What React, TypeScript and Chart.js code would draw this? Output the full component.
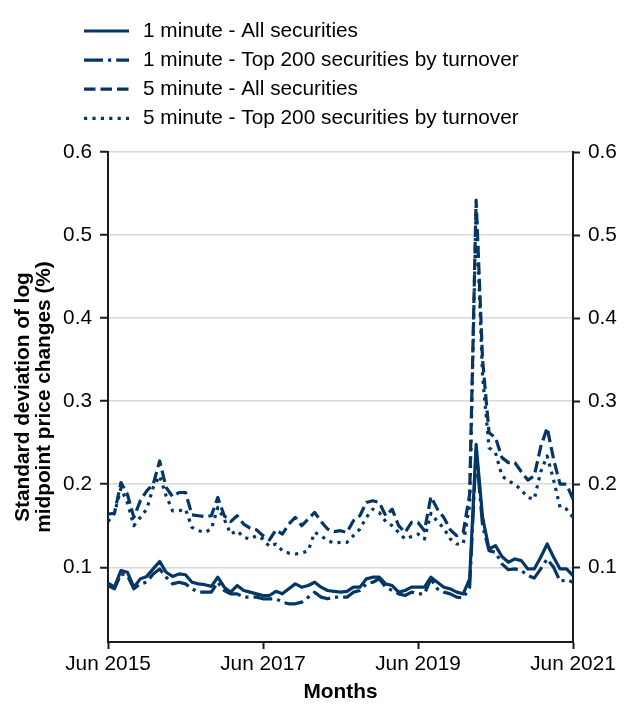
import { useEffect, useRef } from 'react';
import { Chart, registerables } from 'chart.js';

Chart.register(...registerables);

const FONT = '"Liberation Sans", Arial, Helvetica, sans-serif';
const NAVY = '#043666';
const AXIS = '#1a1a1a';
const GRID = '#d9d9d9';
const FS = 20.8;

const MONTH_NAMES = ['Jan', 'Feb', 'Mar', 'Apr', 'May', 'Jun', 'Jul', 'Aug', 'Sep', 'Oct', 'Nov', 'Dec'];
const START_YEAR = 2015;
const START_MONTH = 5; // June
const N_MONTHS = 73;
const MONTHS: string[] = [];
for (let i = 0; i < N_MONTHS; i++) {
  const m = START_MONTH + i;
  MONTHS.push(`${MONTH_NAMES[m % 12]} ${START_YEAR + Math.floor(m / 12)}`);
}

const X_TICK_LABELS = ['Jun 2015', 'Jun 2017', 'Jun 2019', 'Jun 2021'];
const Y_TICKS = [0.1, 0.2, 0.3, 0.4, 0.5, 0.6];
const Y_MIN = 0.01;
const Y_MAX = 0.6;

const SERIES_LABELS = [
  '1 minute - All securities',
  '1 minute - Top 200 securities by turnover',
  '5 minute - All securities',
  '5 minute - Top 200 securities by turnover',
];

const ONE_MIN_ALL = [
  0.081, 0.076, 0.096, 0.094, 0.076, 0.086, 0.089, 0.098, 0.107, 0.094,
  0.089, 0.092, 0.091, 0.082, 0.080, 0.079, 0.077, 0.088, 0.076, 0.070,
  0.078, 0.072, 0.070, 0.068, 0.066, 0.066, 0.071, 0.068, 0.074, 0.080,
  0.076, 0.078, 0.082, 0.076, 0.072, 0.071, 0.070, 0.071, 0.076, 0.076,
  0.086, 0.088, 0.088, 0.080, 0.078, 0.070, 0.072, 0.076, 0.076, 0.076,
  0.088, 0.082, 0.076, 0.074, 0.070, 0.068, 0.086, 0.248, 0.160, 0.122,
  0.126, 0.113, 0.106, 0.110, 0.108, 0.098, 0.098, 0.112, 0.128, 0.112,
  0.098, 0.098, 0.090,
];

const ONE_MIN_TOP200 = [
  0.078, 0.074, 0.092, 0.090, 0.074, 0.080, 0.082, 0.092, 0.098, 0.088,
  0.080, 0.082, 0.080, 0.074, 0.070, 0.070, 0.070, 0.082, 0.072, 0.068,
  0.068, 0.064, 0.064, 0.064, 0.062, 0.062, 0.062, 0.058, 0.056, 0.056,
  0.058, 0.064, 0.070, 0.064, 0.062, 0.064, 0.064, 0.064, 0.070, 0.072,
  0.080, 0.082, 0.086, 0.076, 0.072, 0.068, 0.066, 0.070, 0.068, 0.068,
  0.086, 0.074, 0.070, 0.068, 0.064, 0.063, 0.076, 0.240, 0.150, 0.120,
  0.118, 0.104, 0.097, 0.098, 0.096, 0.090, 0.087, 0.098, 0.110, 0.100,
  0.083, 0.085, 0.082,
];

const FIVE_MIN_ALL = [
  0.164, 0.165, 0.202, 0.188, 0.160, 0.180, 0.192, 0.200, 0.228, 0.196,
  0.185, 0.190, 0.190, 0.163, 0.162, 0.161, 0.162, 0.184, 0.162, 0.155,
  0.162, 0.152, 0.147, 0.145, 0.138, 0.133, 0.145, 0.140, 0.152, 0.160,
  0.150, 0.158, 0.166, 0.155, 0.146, 0.143, 0.144, 0.142, 0.156, 0.162,
  0.178, 0.180, 0.178, 0.162, 0.170, 0.150, 0.142, 0.154, 0.154, 0.144,
  0.185, 0.170, 0.160, 0.145, 0.138, 0.142, 0.188, 0.542, 0.350, 0.262,
  0.256, 0.232, 0.226, 0.226, 0.215, 0.205, 0.210, 0.245, 0.268, 0.230,
  0.200, 0.200, 0.182,
];

const FIVE_MIN_TOP200 = [
  0.155, 0.165, 0.195, 0.178, 0.150, 0.160, 0.170, 0.196, 0.210, 0.186,
  0.168, 0.168, 0.170, 0.148, 0.144, 0.142, 0.146, 0.172, 0.158, 0.140,
  0.144, 0.136, 0.134, 0.138, 0.134, 0.125, 0.128, 0.120, 0.117, 0.116,
  0.117, 0.120, 0.142, 0.138, 0.132, 0.129, 0.130, 0.130, 0.138, 0.146,
  0.160, 0.170, 0.166, 0.155, 0.150, 0.142, 0.134, 0.137, 0.140, 0.134,
  0.165, 0.155, 0.147, 0.134, 0.128, 0.128, 0.175, 0.535, 0.330, 0.244,
  0.238, 0.210, 0.204, 0.200, 0.193, 0.184, 0.182, 0.215, 0.234, 0.205,
  0.172, 0.170, 0.160,
];

const LW = 3.2;
const DASHES: number[][] = [
  [],
  [19, 5, 3.2, 5],
  [11.5, 5],
  [3.2, 5.2],
];

const lineLegend = {
  id: 'lineLegend',
  afterDraw(chart: any) {
    const ctx = chart.ctx as CanvasRenderingContext2D;
    ctx.save();
    chart.data.datasets.forEach((ds: any, i: number) => {
      const y = 31 + i * 29.1;
      ctx.beginPath();
      ctx.setLineDash(ds.borderDash || []);
      ctx.lineWidth = ds.borderWidth;
      ctx.strokeStyle = ds.borderColor;
      ctx.lineCap = 'butt';
      ctx.moveTo(84, y);
      ctx.lineTo(129, y);
      ctx.stroke();
      ctx.setLineDash([]);
      ctx.fillStyle = '#000';
      ctx.font = `${FS}px ${FONT}`;
      ctx.textBaseline = 'middle';
      ctx.textAlign = 'left';
      ctx.fillText(ds.label, 143, y);
    });
    ctx.restore();
  },
};

export default function App() {
  const ref = useRef<HTMLCanvasElement>(null);

  useEffect(() => {
    if (!ref.current) return;
    const seriesValues = [ONE_MIN_ALL, ONE_MIN_TOP200, FIVE_MIN_ALL, FIVE_MIN_TOP200];
    const tickFont = { family: FONT, size: FS };
    const yTickBuild = (s: any) => {
      s.ticks = Y_TICKS.map((v) => ({ value: v }));
    };
    const chart = new Chart(ref.current, {
      type: 'line',
      data: {
        labels: MONTHS,
        datasets: seriesValues.map((vals, i) => ({
          label: SERIES_LABELS[i],
          data: vals,
          borderColor: NAVY,
          backgroundColor: NAVY,
          borderWidth: LW,
          borderDash: DASHES[i],
          borderCapStyle: 'butt',
          borderJoinStyle: 'round',
          pointRadius: 0,
          tension: 0,
          fill: false,
          yAxisID: 'y',
        })),
      },
      options: {
        animation: false,
        responsive: true,
        maintainAspectRatio: false,
        layout: { padding: { top: 152, left: 0, right: 0, bottom: 0 } },
        plugins: {
          legend: { display: false },
          tooltip: { enabled: false },
        },
        scales: {
          x: {
            type: 'category',
            offset: false,
            grid: {
              display: true,
              drawOnChartArea: false,
              drawTicks: true,
              tickLength: 7,
              tickColor: AXIS,
              tickWidth: 2,
            },
            border: { display: true, color: AXIS, width: 2 },
            ticks: {
              autoSkip: false,
              maxRotation: 0,
              padding: 3,
              color: '#000',
              font: tickFont,
              callback: function (this: any, value: any) {
                const l = this.getLabelForValue(value);
                return X_TICK_LABELS.includes(l) ? l : null;
              },
            },
            title: {
              display: true,
              text: 'Months',
              color: '#000',
              font: { family: FONT, size: FS, weight: 'bold', lineHeight: 1.2 },
              padding: { top: 0, bottom: 13 },
            },
            afterFit: (s: any) => {
              s.height = 76;
            },
          },
          y: {
            position: 'left',
            min: Y_MIN,
            max: Y_MAX,
            afterBuildTicks: yTickBuild,
            grid: {
              color: GRID,
              lineWidth: 1.5,
              drawTicks: true,
              tickLength: 8,
              tickColor: AXIS,
              tickWidth: 2,
            },
            border: { display: true, color: AXIS, width: 2 },
            ticks: {
              padding: 8,
              color: '#000',
              font: tickFont,
              callback: (v: any) => Number(v).toFixed(1),
            },
            title: {
              display: true,
              text: ['Standard deviation of log', 'midpoint price changes (%)'],
              color: '#000',
              font: { family: FONT, size: FS, weight: 'bold', lineHeight: 1.045 },
              padding: { top: 12, bottom: 0 },
            },
            afterFit: (s: any) => {
              s.width = 108;
            },
          },
          y2: {
            position: 'right',
            min: Y_MIN,
            max: Y_MAX,
            afterBuildTicks: yTickBuild,
            grid: {
              drawOnChartArea: false,
              drawTicks: true,
              tickLength: 7,
              tickColor: AXIS,
              tickWidth: 2,
            },
            border: { display: true, color: AXIS, width: 2 },
            ticks: {
              padding: 8,
              color: '#000',
              font: tickFont,
              callback: (v: any) => Number(v).toFixed(1),
            },
            afterFit: (s: any) => {
              s.width = 58;
            },
          },
        },
      } as any,
      plugins: [lineLegend],
    });
    return () => chart.destroy();
  }, []);

  return (
    <div style={{ position: 'fixed', left: 0, top: 0, width: 631, height: 718, background: '#fff' }}>
      <canvas ref={ref} />
    </div>
  );
}
